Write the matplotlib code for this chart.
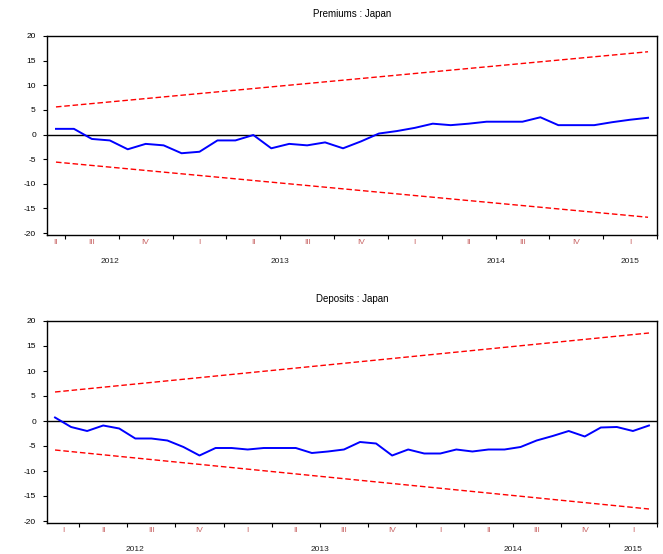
#!/usr/bin/env python3
"""
CUSUM stability test plots (Premiums / Deposits, Japan), EViews look.
"""

import matplotlib.pyplot as plt
import matplotlib.transforms as mtransforms
import pandas as pd

# Premiums: monthly CUSUM, Jun 2012 - Mar 2015
prem_start = "2012-06"
prem_cusum = [1.15, 1.15, -0.9, -1.2, -3.0, -1.9, -2.2, -3.8, -3.5, -1.2,
              -1.2, -0.1, -2.8, -1.9, -2.2, -1.6, -2.8, -1.4, 0.2, 0.7,
              1.35, 2.2, 1.9, 2.2, 2.6, 2.6, 2.6, 3.5, 1.9, 1.9,
              1.9, 2.5, 3.0, 3.4]
prem_band_start = 5.6
prem_band_end = 16.8

# Deposits: monthly CUSUM, Feb 2012 - Mar 2015
dep_start = "2012-02"
dep_cusum = [0.7, -1.2, -2.0, -0.9, -1.5, -3.5, -3.5, -3.9, -5.2, -6.9,
             -5.4, -5.4, -5.7, -5.4, -5.4, -5.4, -6.4, -6.1, -5.7, -4.2,
             -4.5, -6.9, -5.7, -6.5, -6.5, -5.7, -6.1, -5.7, -5.7, -5.2,
             -3.9, -3.0, -2.0, -3.1, -1.3, -1.2, -2.0, -0.9]
dep_band_start = 5.8
dep_band_end = 17.6

quarter_names = ["I", "II", "III", "IV"]
y_ticks = [-20, -15, -10, -5, 0, 5, 10, 15, 20]


def month_pos(periods):
    # months since Jan 2012, centred in the month
    return [(p.year - 2012) * 12 + p.month - 1 + 0.5 for p in periods]


def draw_panel(ax, title, start, cusum, band_start, band_end):
    periods = pd.period_range(start, periods=len(cusum), freq="M")
    x = month_pos(periods)
    x0 = x[0] - 0.5
    x1 = x[-1] + 0.5

    ax.axhline(0, color="black", lw=1.0, zorder=1)
    ax.plot([x[0], x[-1]], [band_start, band_end], color="#ff0000", lw=1.0,
            dashes=(4, 2), zorder=2)
    ax.plot([x[0], x[-1]], [-band_start, -band_end], color="#ff0000", lw=1.0,
            dashes=(4, 2), zorder=2)
    ax.plot(x, cusum, color="#0000ff", lw=1.4, zorder=3)

    ax.set_xlim(x0, x1)
    ax.set_ylim(-20.4, 20)
    ax.set_yticks(y_ticks)
    ax.set_yticklabels([str(v) for v in y_ticks], fontsize=6)
    ax.tick_params(axis="y", length=3, width=0.8, pad=5)

    # quarter boundaries as major ticks, quarter names centred in between
    bounds = [m for m in range(int(x0), int(x1) + 1) if m % 3 == 0 and m > x0]
    ax.set_xticks(bounds)
    ax.set_xticklabels([])
    ax.tick_params(axis="x", which="major", length=3, width=0.8)

    edges = sorted(set([x0] + bounds + [x1]))
    centres, names = [], []
    for a, b in zip(edges[:-1], edges[1:]):
        q = int(a // 3) % 4
        centres.append((a + b) / 2)
        names.append(quarter_names[q])
    ax.set_xticks(centres, minor=True)
    ax.set_xticklabels(names, minor=True, fontsize=6, color="#c86464")
    ax.tick_params(axis="x", which="minor", length=0, pad=3)

    # year labels centred on the visible part of each year
    trans = mtransforms.blended_transform_factory(ax.transData, ax.transAxes)
    for yr in range(2012, 2016):
        a = max(x0, (yr - 2012) * 12)
        b = min(x1, (yr - 2011) * 12)
        if b > a:
            ax.annotate(str(yr), xy=((a + b) / 2, 0), xycoords=trans,
                        xytext=(0, -19), textcoords="offset points",
                        ha="center", va="center", fontsize=6, color="#222222")

    for s in ax.spines.values():
        s.set_linewidth(1.0)
        s.set_color("black")
    ax.set_title(title, fontsize=7, pad=14)


fig = plt.figure(figsize=(6.63, 5.54), dpi=100)
plt.rcParams["font.family"] = ["Liberation Sans", "DejaVu Sans"]

ax1 = fig.add_axes([47 / 663, 1 - 235 / 554, 610 / 663, 199 / 554])
ax2 = fig.add_axes([47 / 663, 1 - 523 / 554, 610 / 663, 202 / 554])

draw_panel(ax1, "Premiums : Japan", prem_start, prem_cusum,
           prem_band_start, prem_band_end)
draw_panel(ax2, "Deposits : Japan", dep_start, dep_cusum,
           dep_band_start, dep_band_end)

fig.savefig("out.png", dpi=100)
